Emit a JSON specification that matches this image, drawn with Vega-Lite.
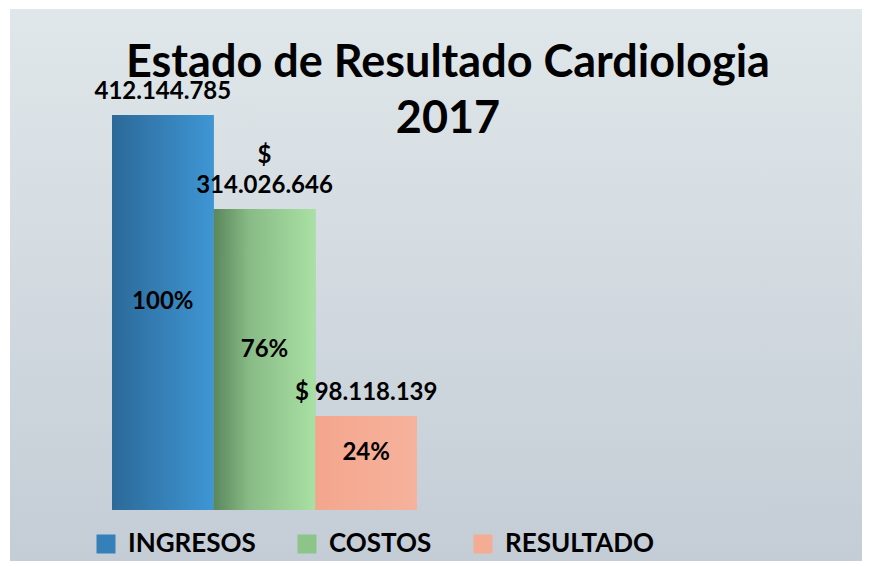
{
  "$schema": "https://vega.github.io/schema/vega-lite/v6.json",
  "width": 852,
  "height": 552,
  "autosize": {"type": "none"},
  "padding": {"left": 10, "top": 9, "right": 8, "bottom": 6},
  "background": "#ffffff",
  "config": {
    "view": {
      "stroke": null,
      "fill": {"gradient": "linear", "x1": 0, "y1": 0, "x2": 0, "y2": 1,
        "stops": [{"offset": 0, "color": "#e0e7ea"}, {"offset": 1, "color": "#c4cdd6"}]}
    }
  },
  "title": {
    "text": ["Estado de Resultado Cardiologia", "2017"],
    "font": "Lato",
    "fontWeight": "bold",
    "fontSize": 45,
    "lineHeight": 56,
    "color": "#000000",
    "anchor": "middle",
    "offset": -133,
    "dx": 12
  },
  "data": {
    "values": [
      {"concepto": "INGRESOS", "valor": 412144785, "porcentaje": "100%", "prefijo": "", "etiqueta": "412.144.785"},
      {"concepto": "COSTOS", "valor": 314026646, "porcentaje": "76%", "prefijo": "$", "etiqueta": "314.026.646"},
      {"concepto": "RESULTADO", "valor": 98118139, "porcentaje": "24%", "prefijo": "", "etiqueta": "$ 98.118.139"}
    ]
  },
  "encoding": {
    "x": {
      "field": "concepto", "type": "nominal", "sort": null, "axis": null,
      "scale": {"paddingInner": 0, "paddingOuter": 0, "range": [102, 407]}
    },
    "y": {"field": "valor", "type": "quantitative", "axis": null,
      "scale": {"domain": [-53210000, 522730000], "nice": false}}
  },
  "layer": [
    {
      "mark": {"type": "bar"},
      "encoding": {
        "y2": {"datum": 0},
        "color": {
          "field": "concepto", "type": "nominal", "sort": null,
          "scale": {
            "domain": ["INGRESOS", "COSTOS", "RESULTADO"],
            "range": ["#3580b8", "#8cc489", "#f5ac94"]
          },
          "legend": {
            "title": null,
            "orient": "none",
            "legendX": 83,
            "legendY": 522,
            "direction": "horizontal",
            "symbolType": "square",
            "symbolSize": 361,
            "symbolStrokeWidth": 0,
            "symbolOpacity": 1,
            "labelFont": "Lato",
            "labelFontWeight": "bold",
            "labelFontSize": 26,
            "labelColor": "#000000",
            "labelOffset": 9,
            "columnPadding": 38,
            "padding": 0,
            "labelLimit": 300
          }
        }
      }
    },
    {
      "transform": [{"filter": "datum.concepto === 'INGRESOS'"}],
      "mark": {"type": "bar",
        "fill": {"gradient": "linear", "x1": 0, "y1": 0, "x2": 1, "y2": 0,
          "stops": [{"offset": 0, "color": "#2c6999"}, {"offset": 1, "color": "#3e96d4"}]}},
      "encoding": {"y2": {"datum": 0}}
    },
    {
      "transform": [{"filter": "datum.concepto === 'COSTOS'"}],
      "mark": {"type": "bar",
        "fill": {"gradient": "linear", "x1": 0, "y1": 0, "x2": 1, "y2": 0,
          "stops": [{"offset": 0, "color": "#5a875c"}, {"offset": 0.35, "color": "#88bb86"}, {"offset": 1, "color": "#a9e0a3"}]}},
      "encoding": {"y2": {"datum": 0}}
    },
    {
      "transform": [{"filter": "datum.concepto === 'RESULTADO'"}],
      "mark": {"type": "bar",
        "fill": {"gradient": "linear", "x1": 0, "y1": 0, "x2": 1, "y2": 0,
          "stops": [{"offset": 0, "color": "#f4a68d"}, {"offset": 1, "color": "#f6b29c"}]}},
      "encoding": {"y2": {"datum": 0}}
    },
    {
      "mark": {"type": "text", "font": "Lato", "fontWeight": "bold", "fontSize": 24, "color": "#000000",
        "baseline": "alphabetic", "align": "center", "dy": -16},
      "encoding": {
        "text": {"field": "etiqueta"}
      }
    },
    {
      "mark": {"type": "text", "font": "Lato", "fontWeight": "bold", "fontSize": 24, "color": "#000000",
        "baseline": "alphabetic", "align": "center", "dy": -46},
      "encoding": {
        "text": {"field": "prefijo"}
      }
    },
    {
      "transform": [{"calculate": "datum.valor / 2", "as": "medio"}],
      "mark": {"type": "text", "font": "Lato", "fontWeight": "bold", "fontSize": 24, "color": "#000000",
        "baseline": "middle", "align": "center", "dy": -10},
      "encoding": {
        "y": {"field": "medio", "type": "quantitative"},
        "text": {"field": "porcentaje"}
      }
    }
  ]
}
